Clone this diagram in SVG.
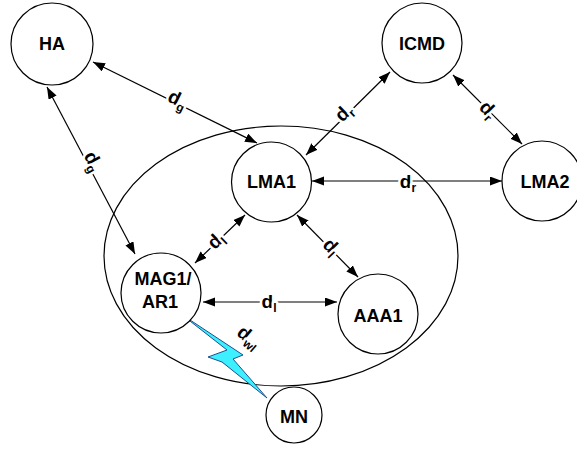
<svg xmlns="http://www.w3.org/2000/svg" width="577" height="450" viewBox="0 0 577 450">
<style>
.node{fill:#fff;stroke:#000;stroke-width:1.2}
.nt{font-family:"Liberation Sans",Arial,sans-serif;font-weight:bold;font-size:18px;text-anchor:middle;fill:#000}
.edge{stroke:#000;stroke-width:1.2;fill:none;marker-start:url(#ah);marker-end:url(#ah)}
.lbl{font-family:"Liberation Sans",Arial,sans-serif;font-weight:bold;font-size:19px;text-anchor:middle;fill:#000;stroke:#fff;stroke-width:5;paint-order:stroke;stroke-linejoin:round}
.sub{font-size:12px}
</style>
<defs>
<marker id="ah" markerUnits="userSpaceOnUse" markerWidth="13" markerHeight="10" refX="12" refY="4.5" orient="auto-start-reverse">
<path d="M0,0 L12,4.5 L0,9 z" fill="#000"/>
</marker>
</defs>
<rect width="577" height="450" fill="#fff"/>
<g id="domain"><ellipse cx="281" cy="256" rx="177" ry="130" fill="none" stroke="#000" stroke-width="1.2"/></g>
<g id="connectors">
<line class="edge" x1="93" y1="62" x2="257" y2="143"/>
<line class="edge" x1="47" y1="87" x2="135" y2="254"/>
<line class="edge" x1="390" y1="72" x2="306" y2="155"/>
<line class="edge" x1="453" y1="75" x2="522" y2="144"/>
<line class="edge" x1="312" y1="181" x2="502" y2="181" stroke="#222"/>
<line class="edge" x1="245" y1="215" x2="195" y2="263"/>
<line class="edge" x1="297" y1="215" x2="358" y2="277"/>
<line class="edge" x1="203" y1="302" x2="337" y2="302" stroke="#333"/>
<g id="wireless">
<polygon points="181,314 227,350 208,357 222,362 267,398 233,359 243,355" fill="#3cf0ff" stroke="#1f4f8f" stroke-width="1" stroke-linejoin="miter"/>
</g>
<text class="lbl" transform="translate(175,105) rotate(26)">d<tspan class="sub" dy="4">g</tspan></text>
<text class="lbl" transform="translate(88,164) rotate(62)">d<tspan class="sub" dy="4">g</tspan></text>
<text class="lbl" transform="translate(348,117) rotate(-44)">d<tspan class="sub" dy="4">r</tspan></text>
<text class="lbl" transform="translate(484,114) rotate(46)">d<tspan class="sub" dy="4">r</tspan></text>
<text class="lbl" transform="translate(408,188)">d<tspan class="sub" dy="4">r</tspan></text>
<text class="lbl" transform="translate(220,245) rotate(-44)">d<tspan class="sub" dy="4">l</tspan></text>
<text class="lbl" transform="translate(327,251) rotate(46)">d<tspan class="sub" dy="4">l</tspan></text>
<text class="lbl" transform="translate(269,308)">d<tspan class="sub" dy="4">l</tspan></text>
<text class="lbl" transform="translate(245,342) rotate(40)">d<tspan class="sub" dy="4">wl</tspan></text>
</g>
<g id="HA"><circle class="node" cx="52" cy="44" r="41"/><text class="nt" x="52" y="50">HA</text></g>
<g id="ICMD"><circle class="node" cx="422" cy="43" r="40"/><text class="nt" x="422" y="50">ICMD</text></g>
<g id="LMA1"><circle class="node" cx="271.5" cy="182" r="40"/><text class="nt" x="271.5" y="188">LMA1</text></g>
<g id="LMA2"><circle class="node" cx="542" cy="181" r="40"/><text class="nt" x="545" y="188">LMA2</text></g>
<g id="MAG1"><circle class="node" cx="161" cy="293" r="40"/><text class="nt" x="163" y="285">MAG1/</text><text class="nt" x="160" y="308">AR1</text></g>
<g id="AAA1"><circle class="node" cx="378" cy="314" r="40"/><text class="nt" x="378" y="322">AAA1</text></g>
<g id="MN"><circle class="node" cx="294" cy="415" r="28"/><text class="nt" x="294" y="423">MN</text></g>
</svg>
